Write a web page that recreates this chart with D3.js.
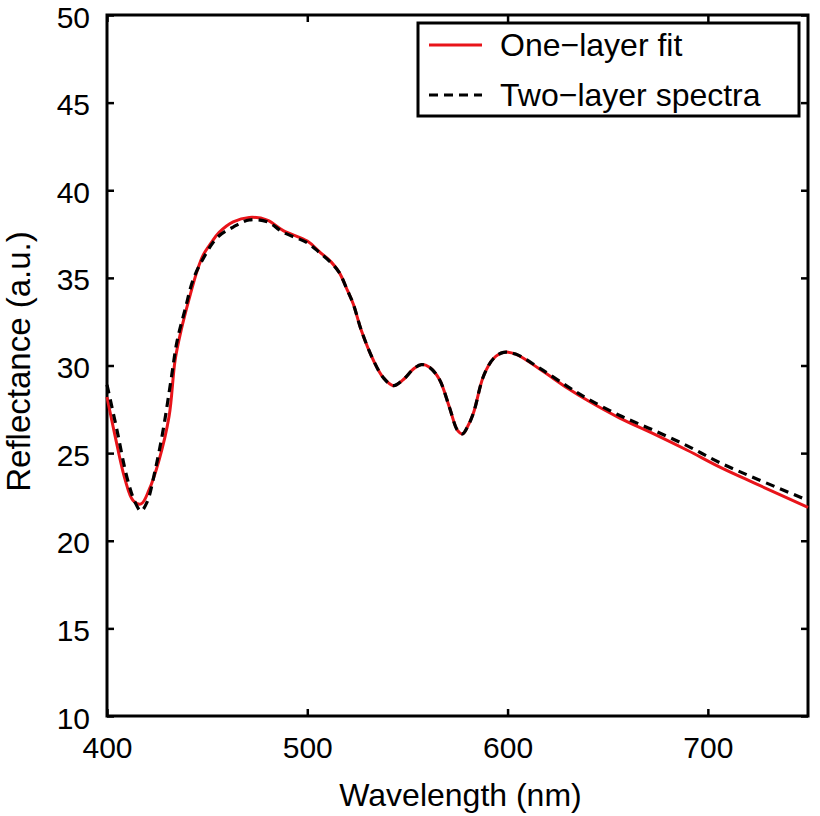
<!DOCTYPE html>
<html>
<head>
<meta charset="utf-8">
<script src="https://cdn.jsdelivr.net/npm/d3@7"></script>
<style>
  body { margin: 0; background: #fff; }
  text { font-family: "Liberation Sans", Arial, sans-serif; fill: #000; }
</style>
</head>
<body>
<div id="chart"></div>
<script>
(function() {
  var W = 820, H = 816;
  var left = 107, top = 15, pw = 701, ph = 701;

  // one-layer fit (red, solid)
  var wlFit = [400, 404, 409, 413, 417, 421, 426, 431, 434, 437, 441, 445, 448, 452, 456, 463, 471, 480, 488,
               500, 506, 512, 516, 520, 523, 527, 533, 538, 543, 548, 553, 557, 561, 566, 571, 575, 577.5,
               580, 583, 588, 593, 598, 604, 616, 630, 640, 656, 673, 690, 706, 725, 750];
  var rFit = [28.2, 26.0, 23.5, 22.3, 22.1, 22.9, 24.6, 27.1, 30.3, 32.0, 33.8, 35.4, 36.3, 37.0, 37.6, 38.2, 38.45, 38.3, 37.7,
              37.1, 36.5, 35.9, 35.3, 34.3, 33.5, 32.0, 30.3, 29.3, 28.85, 29.2, 29.8, 30.05, 29.9, 29.2, 27.6, 26.3, 26.1,
              26.5, 27.3, 29.4, 30.4, 30.75, 30.65, 29.8, 28.7, 28.0, 27.0, 26.1, 25.15, 24.2, 23.2, 21.9];

  // two-layer spectra (black, dashed)
  var wlTwo = [400, 405, 410, 414, 417, 420, 424, 428, 432, 435, 439, 443, 448, 455, 463, 471, 480, 488,
               500, 506, 512, 516, 520, 523, 527, 533, 538, 543, 548, 553, 557, 561, 566, 571, 575, 577.5,
               580, 583, 588, 593, 598, 604, 616, 630, 640, 656, 673, 690, 706, 725, 750];
  var rTwo = [28.9, 26.3, 23.6, 22.2, 21.7, 22.2, 24.0, 26.3, 29.2, 31.4, 33.2, 34.9, 36.1, 37.3, 37.9, 38.3, 38.2, 37.6,
              37.0, 36.45, 35.85, 35.3, 34.3, 33.5, 32.0, 30.3, 29.3, 28.85, 29.2, 29.8, 30.05, 29.9, 29.2, 27.6, 26.3, 26.1,
              26.5, 27.3, 29.4, 30.4, 30.75, 30.65, 29.85, 28.8, 28.1, 27.15, 26.3, 25.4, 24.45, 23.5, 22.3];

  var xTicks = [400, 500, 600, 700];
  var yTicks = [10, 15, 20, 25, 30, 35, 40, 45, 50];

  var svg = d3.select("#chart").append("svg")
    .attr("width", W)
    .attr("height", H);

  var g = svg.append("g").attr("transform", "translate(" + left + "," + top + ")");

  var x = d3.scaleLinear().domain([400, 750]).range([0, pw]);
  var y = d3.scaleLinear().domain([10, 50]).range([ph, 0]);

  // axes with inward ticks (bottom/left labelled, top/right mirrored)
  function styleAxis(sel) {
    sel.select(".domain").remove();
    sel.selectAll(".tick line").attr("stroke", "#000").attr("stroke-width", 2.5);
    sel.selectAll(".tick text").style("font-size", "30px").attr("fill", "#000");
  }

  g.append("g").attr("transform", "translate(0," + ph + ")")
    .call(d3.axisBottom(x).tickValues(xTicks).tickSizeInner(-7).tickPadding(21))
    .call(styleAxis);
  g.append("g")
    .call(d3.axisTop(x).tickValues(xTicks).tickSizeInner(-7).tickFormat(""))
    .call(styleAxis);
  g.append("g")
    .call(d3.axisLeft(y).tickValues(yTicks).tickSizeInner(-7).tickPadding(17))
    .call(styleAxis)
    .selectAll(".tick text").attr("dy", "0.4em");
  g.append("g").attr("transform", "translate(" + pw + ",0)")
    .call(d3.axisRight(y).tickValues(yTicks).tickSizeInner(-7).tickFormat(""))
    .call(styleAxis);

  g.append("rect")
    .attr("x", 0).attr("y", 0)
    .attr("width", pw).attr("height", ph)
    .attr("fill", "none")
    .attr("stroke", "#000")
    .attr("stroke-width", 3);

  var fitData = wlFit.map(function(d, i) { return [d, rFit[i]]; });
  var twoData = wlTwo.map(function(d, i) { return [d, rTwo[i]]; });

  var line = d3.line()
    .x(function(d) { return x(d[0]); })
    .y(function(d) { return y(d[1]); })
    .curve(d3.curveCatmullRom.alpha(0.5));

  g.append("path")
    .datum(fitData)
    .attr("d", line)
    .attr("fill", "none")
    .attr("stroke", "#e8141a")
    .attr("stroke-width", 3);

  g.append("path")
    .datum(twoData)
    .attr("d", line)
    .attr("fill", "none")
    .attr("stroke", "#000")
    .attr("stroke-width", 3.2)
    .attr("stroke-dasharray", "9,6");

  // axis titles
  svg.append("text")
    .attr("x", left + pw / 2 + 3)
    .attr("y", 806)
    .attr("text-anchor", "middle")
    .style("font-size", "32px")
    .text("Wavelength (nm)");

  svg.append("text")
    .attr("transform", "translate(30," + (top + ph / 2 - 4) + ") rotate(-90)")
    .attr("text-anchor", "middle")
    .style("font-size", "33px")
    .text("Reflectance (a.u.)");

  // legend
  var leg = svg.append("g").attr("transform", "translate(418,23)");
  leg.append("rect")
    .attr("width", 381).attr("height", 93)
    .attr("fill", "#fff")
    .attr("stroke", "#000")
    .attr("stroke-width", 3);

  var items = [
    { label: "One\u2212layer fit", color: "#e8141a", dash: null },
    { label: "Two\u2212layer spectra", color: "#000", dash: "9,6" }
  ];
  items.forEach(function(d, i) {
    var cy = 22 + i * 50;
    leg.append("line")
      .attr("x1", 11).attr("x2", 64)
      .attr("y1", cy).attr("y2", cy)
      .attr("stroke", d.color)
      .attr("stroke-width", 3)
      .attr("stroke-dasharray", d.dash);
    leg.append("text")
      .attr("x", 82).attr("y", cy + 11)
      .style("font-size", "32px")
      .text(d.label);
  });
})();
</script>
</body>
</html>
